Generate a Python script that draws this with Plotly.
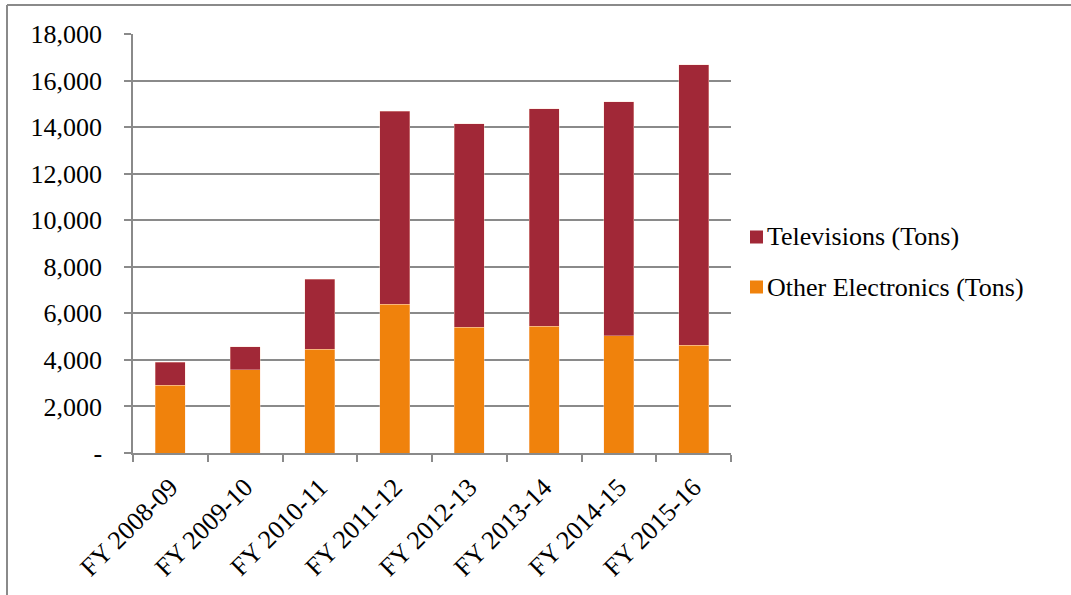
import plotly.graph_objects as go

categories = ["FY 2008-09", "FY 2009-10", "FY 2010-11", "FY 2011-12",
              "FY 2012-13", "FY 2013-14", "FY 2014-15", "FY 2015-16"]
other_electronics = [2920, 3585, 4450, 6400, 5410, 5450, 5040, 4635]
televisions = [970, 975, 3005, 8290, 8735, 9330, 10040, 12045]
y_tickvals = [0, 2000, 4000, 6000, 8000, 10000, 12000, 14000, 16000, 18000]
y_ticktext = ["-", "2,000", "4,000", "6,000", "8,000", "10,000", "12,000",
              "14,000", "16,000", "18,000"]
series_names = ["Televisions (Tons)", "Other Electronics (Tons)"]
series_colors = ["#A12837", "#F0820C"]

FONT = "Liberation Serif"
FS = 26
GRID = "#8a8a8a"

fig = go.Figure()
fig.add_trace(go.Bar(x=categories, y=other_electronics, name=series_names[1],
                     marker=dict(color=series_colors[1], line=dict(color="rgba(255,220,200,0.6)", width=0.6)),
                     showlegend=False))
fig.add_trace(go.Bar(x=categories, y=televisions, name=series_names[0],
                     marker=dict(color=series_colors[0], line=dict(color="rgba(255,220,200,0.6)", width=0.6)),
                     showlegend=False))

W, H = 1071, 595
L, R, T, B = 133, 340, 34, 142
pw, ph = W - L - R, H - T - B

def px(x):
    return (x - L) / pw

def py(y):
    return (H - B - y) / ph

shapes = [
    dict(type="line", xref="paper", yref="paper", x0=px(7), x1=px(7), y0=py(5), y1=py(600),
         line=dict(color="#8a8a8a", width=2)),
    dict(type="line", xref="paper", yref="paper", x0=px(7), x1=px(1075), y0=py(5), y1=py(5),
         line=dict(color="#8a8a8a", width=2)),
]
annotations = []
for i, (nm, col) in enumerate(zip(series_names, series_colors)):
    cy = 237 + 50 * i
    shapes.append(dict(type="rect", xref="paper", yref="paper",
                       x0=px(750), x1=px(763), y0=py(cy + 6.5), y1=py(cy - 6.5),
                       fillcolor=col, line=dict(width=0)))
    annotations.append(dict(text=nm, xref="paper", yref="paper", x=px(765), y=py(cy),
                            xanchor="left", yanchor="middle", showarrow=False,
                            font=dict(family=FONT, size=FS, color="black")))

fig.update_layout(
    width=W, height=H,
    barmode="stack",
    bargap=0.6,
    margin=dict(l=L, r=R, t=T, b=B, pad=0),
    paper_bgcolor="white", plot_bgcolor="white",
    font=dict(family=FONT, size=FS, color="black"),
    showlegend=False,
    xaxis=dict(showline=True, linecolor=GRID, linewidth=1.5,
               ticks="outside", tickson="boundaries", ticklen=7, tickcolor=GRID, tickwidth=1.5,
               tickangle=-45, tickfont=dict(family=FONT, size=FS),
               ticklabelstandoff=7, showgrid=False),
    yaxis=dict(range=[0, 18000], tickvals=y_tickvals, ticktext=y_ticktext,
               showline=True, linecolor=GRID, linewidth=1.5,
               ticks="outside", ticklen=7, tickcolor=GRID, tickwidth=1.5,
               showgrid=True, gridcolor=GRID, gridwidth=1.5,
               ticklabelstandoff=17, tickfont=dict(family=FONT, size=FS),
               zeroline=False),
    shapes=shapes,
    annotations=annotations,
)

fig.write_html("out.html")
